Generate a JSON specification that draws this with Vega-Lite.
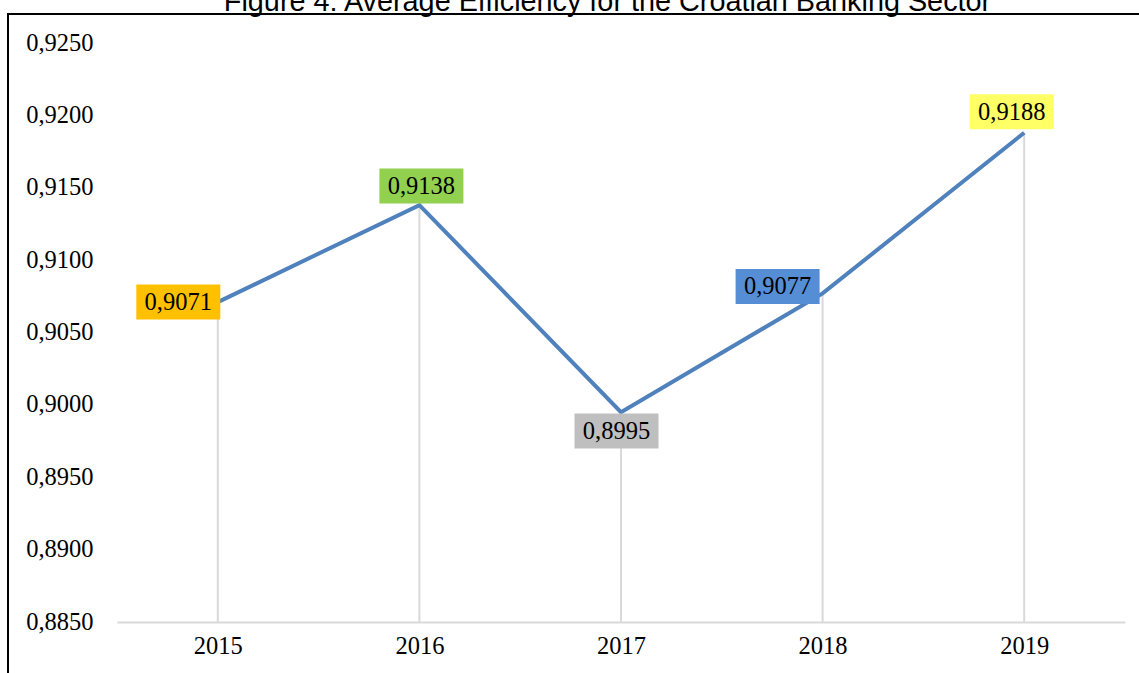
{
  "$schema": "https://vega.github.io/schema/vega-lite/v6.json",
  "width": 1135,
  "height": 665,
  "autosize": "none",
  "padding": {"left": 8, "top": 14, "right": 0, "bottom": 0},
  "background": "white",
  "title": {
    "text": "Figure 4: Average Efficiency for the Croatian Banking Sector",
    "font": "Liberation Sans",
    "fontSize": 28.8,
    "fontWeight": "normal",
    "color": "#000000",
    "anchor": "middle",
    "baseline": "alphabetic",
    "offset": -26,
    "dx": 32
  },
  "config": {
    "locale": {"number": {"decimal": ",", "thousands": ".", "grouping": [3], "currency": ["", " €"]}},
    "view": {"stroke": "#000000", "strokeWidth": 2}
  },
  "data": {
    "values": [
      {"year": 2015, "value": 0.9071},
      {"year": 2016, "value": 0.9138},
      {"year": 2017, "value": 0.8995},
      {"year": 2018, "value": 0.9077},
      {"year": 2019, "value": 0.9188}
    ]
  },
  "encoding": {
    "x": {
      "field": "year",
      "type": "quantitative",
      "scale": {"domain": [2014.5, 2019.5], "range": [109, 1117], "nice": false, "zero": false},
      "axis": {
        "title": null,
        "values": [2015, 2016, 2017, 2018, 2019],
        "format": "d",
        "labelFont": "Liberation Serif",
        "labelFontSize": 24.5,
        "labelColor": "#000000",
        "ticks": false,
        "grid": false,
        "domainColor": "#d9d9d9",
        "domainWidth": 2,
        "offset": -57,
        "labelPadding": 12,
        "zindex": 1
      }
    },
    "y": {
      "field": "value",
      "type": "quantitative",
      "scale": {"domain": [0.885, 0.925], "range": [608, 29], "nice": false, "zero": false},
      "axis": {
        "title": null,
        "values": [0.885, 0.89, 0.895, 0.9, 0.905, 0.91, 0.915, 0.92, 0.925],
        "format": ".4f",
        "labelFont": "Liberation Serif",
        "labelFontSize": 24.5,
        "labelColor": "#000000",
        "ticks": false,
        "domain": false,
        "grid": false,
        "offset": -109,
        "labelPadding": 24
      }
    }
  },
  "layer": [
    {
      "data": {"values": [{}]},
      "mark": {
        "type": "rect",
        "color": {
          "gradient": "linear",
          "x1": 0, "y1": 0, "x2": 0, "y2": 1,
          "stops": [
            {"offset": 0, "color": "#ffffff"},
            {"offset": 1, "color": "#f2f2f2"}
          ]
        }
      },
      "encoding": {
        "x": {"datum": 2014.5, "type": "quantitative"},
        "x2": {"datum": 2019.5},
        "y": {"datum": 0.925, "type": "quantitative"},
        "y2": {"datum": 0.885}
      }
    },
    {
      "mark": {"type": "rule", "color": "#d9d9d9", "strokeWidth": 2},
      "encoding": {
        "y2": {"datum": 0.885}
      }
    },
    {
      "mark": {"type": "line", "color": "#4f81bd", "strokeWidth": 4},
      "encoding": {}
    },
    {
      "mark": {
        "type": "point",
        "filled": true,
        "opacity": 1,
        "strokeWidth": 0,
        "shape": "M-2.4,-1H2.4V1H-2.4Z",
        "size": 1225,
        "xOffset": {"expr": "datum.year == 2015 ? -39.5 : datum.year == 2016 ? 2 : datum.year == 2017 ? -4.5 : datum.year == 2018 ? -45 : -12.5"},
        "yOffset": {"expr": "datum.year == 2015 ? 0 : datum.year == 2016 ? -19 : datum.year == 2017 ? 19 : datum.year == 2018 ? -7 : -21"}
      },
      "encoding": {
        "color": {
          "field": "year",
          "type": "nominal",
          "scale": {
            "domain": [2015, 2016, 2017, 2018, 2019],
            "range": ["#ffc000", "#92d050", "#bfbfbf", "#558ed5", "#ffff66"]
          },
          "legend": null
        }
      }
    },
    {
      "mark": {
        "type": "text",
        "font": "Liberation Serif",
        "fontSize": 24.5,
        "color": "#000000",
        "align": "center",
        "baseline": "middle",
        "dy": 1,
        "xOffset": {"expr": "datum.year == 2015 ? -39.5 : datum.year == 2016 ? 2 : datum.year == 2017 ? -4.5 : datum.year == 2018 ? -45 : -12.5"},
        "yOffset": {"expr": "datum.year == 2015 ? 0 : datum.year == 2016 ? -19 : datum.year == 2017 ? 19 : datum.year == 2018 ? -7 : -21"}
      },
      "encoding": {
        "text": {"field": "value", "type": "quantitative", "format": ".4f"}
      }
    }
  ]
}
